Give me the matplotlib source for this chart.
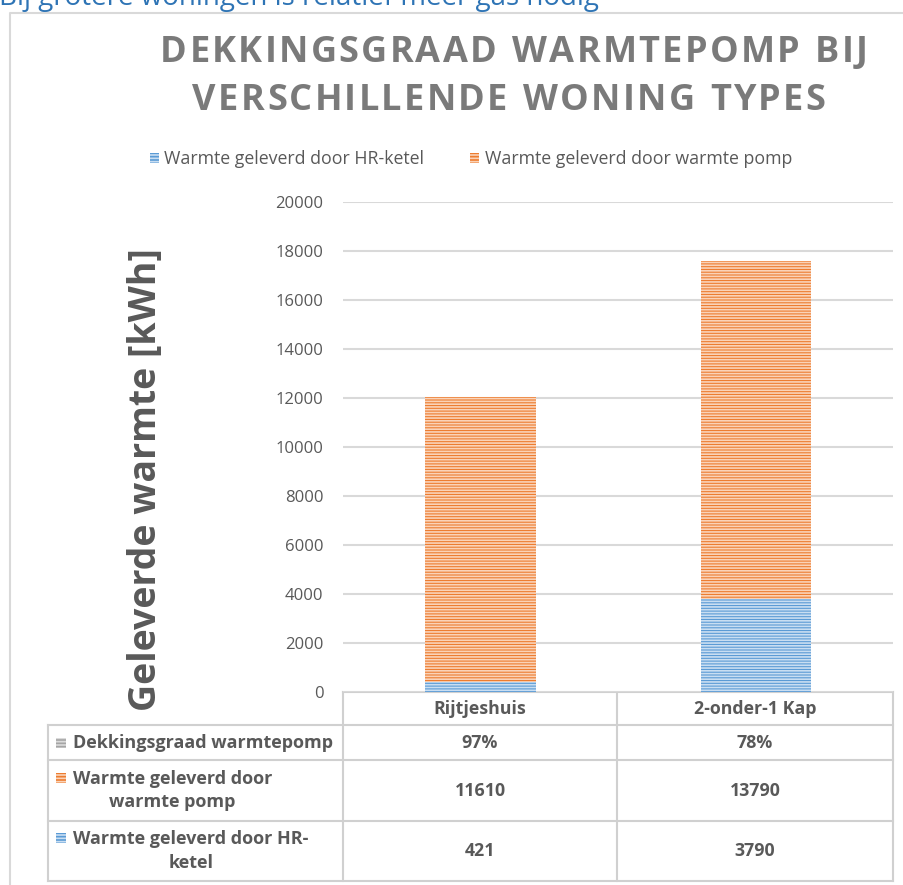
import matplotlib
matplotlib.use("Agg")
import matplotlib.pyplot as plt
from matplotlib.patches import Rectangle, Patch

plt.rcParams['font.family'] = ['Open Sans', 'DejaVu Sans']
plt.rcParams['hatch.linewidth'] = 1.2

# ---- data ----
categories = ["Rijtjeshuis", "2-onder-1 Kap"]
hr_ketel = [421, 3790]
warmtepomp = [11610, 13790]
dekkingsgraad = [0.97, 0.78]
series_names = ["Warmte geleverd door HR-ketel", "Warmte geleverd door warmte pomp"]
table_labels = ["Dekkingsgraad warmtepomp",
                "Warmte geleverd door\nwarmte pomp",
                "Warmte geleverd door HR-\nketel"]
yticks = [0, 2000, 4000, 6000, 8000, 10000, 12000, 14000, 16000, 18000, 20000]

title_lines = ["DEKKINGSGRAAD WARMTEPOMP BIJ", "VERSCHILLENDE WONING TYPES"]
ylabel = "Geleverde warmte [kWh]"
top_caption = "Bij grotere woningen is relatief meer gas nodig"

BLUE, BLUE_L = "#5B9BD5", "#C9DEF2"
ORANGE, ORANGE_L = "#ED7D31", "#FAD3B8"
GRAY, GRAY_L = "#A5A5A5", "#DBDBDB"
TXT = "#595959"
GRID = "#D9D9D9"

W, H = 904, 885
fig = plt.figure(figsize=(W / 100, H / 100), dpi=100)
renderer = fig.canvas.get_renderer()

def fx(x):
    return x / W

def fy(y):
    return 1 - y / H

# outer chart border + cut-off caption above the chart
border = fig.add_axes([0, 0, 1, 1])
border.set_xlim(0, W)
border.set_ylim(H, 0)
border.axis("off")
border.plot([10, 10, W + 5], [H + 5, 13, 13], color=GRID, lw=1.5)
border.text(-1, 5, top_caption, fontsize=20, color="#2E74B5", va="baseline", ha="left")

# main axes
L, R, T, B = 343, 893, 202, 692
ax = fig.add_axes([fx(L), fy(B), fx(R) - fx(L), fy(T) - fy(B)])
x = list(range(len(categories)))
ax.bar(x, hr_ketel, width=0.4, color=BLUE, edgecolor=BLUE_L, linewidth=0, hatch="------", zorder=3)
ax.bar(x, warmtepomp, width=0.4, bottom=hr_ketel, color=ORANGE, edgecolor=ORANGE_L,
       linewidth=0, hatch="------", zorder=3)
ax.set_xlim(-0.5, len(categories) - 0.5)
ax.set_ylim(0, 20000)
ax.set_yticks(yticks)
ax.set_yticklabels([str(v) for v in yticks], fontsize=12, color=TXT)
ax.tick_params(axis="y", length=0, pad=14)
ax.set_xticks([])
for s in ax.spines.values():
    s.set_visible(False)
ax.grid(axis="y", color=GRID, lw=1.5, zorder=0)

# title with letter spacing (drawn per character)
def spaced_text(line, xc, yc, size, spacing):
    widths = []
    for ch in line:
        t = fig.text(0, 0, ch if ch != " " else "n", fontsize=size, fontweight="bold")
        w = t.get_window_extent(renderer).width
        if ch == " ":
            w *= 0.45
        widths.append(w)
        t.remove()
    total = sum(widths) + spacing * (len(line) - 1)
    xp = xc - total / 2
    for ch, w in zip(line, widths):
        if ch != " ":
            fig.text(fx(xp), fy(yc), ch, fontsize=size, fontweight="bold", color="#7A7A7A",
                     ha="left", va="center")
        xp += w + spacing

spaced_text(title_lines[0], 514, 53, 26, 2.3)
spaced_text(title_lines[1], 509, 101, 26, 2.3)

# y label
fig.text(fx(146), fy(480), ylabel, ha="center", va="center", rotation=90, fontsize=27,
         fontweight="bold", color=TXT)

# legend
handles = [Patch(facecolor=BLUE, edgecolor=BLUE_L, hatch="-----", lw=0),
           Patch(facecolor=ORANGE, edgecolor=ORANGE_L, hatch="-----", lw=0)]
fig.legend(handles, series_names, loc="center", bbox_to_anchor=(fx(471), fy(159)), ncol=2,
           frameon=False, fontsize=12.8, labelcolor=TXT, handlelength=0.5, handleheight=0.5,
           handletextpad=0.3, columnspacing=2.6)

# data table
tab = fig.add_axes([0, 0, 1, 1], zorder=-1)
tab.set_xlim(0, W)
tab.set_ylim(H, 0)
tab.axis("off")
col_edges = [48, L, 617, R]
row_edges = [B, 725, 760, 821, 881]
lc = "#D0D0D0"
tab.plot([L, R], [B, B], color=lc, lw=1.5)
for xe in col_edges[1:]:
    tab.plot([xe, xe], [B, row_edges[-1]], color=lc, lw=1.5)
tab.plot([col_edges[0], col_edges[0]], [row_edges[1], row_edges[-1]], color=lc, lw=1.5)
for ye in row_edges[1:]:
    tab.plot([col_edges[0], R], [ye, ye], color=lc, lw=1.5)

col_centers = [(col_edges[i + 1] + col_edges[i + 2]) / 2 for i in range(len(categories))]
for cx, cat in zip(col_centers, categories):
    tab.text(cx, (row_edges[0] + row_edges[1]) / 2, cat, ha="center", va="center",
             fontsize=12.8, fontweight="bold", color=TXT)

rows = [
    ([f"{round(v * 100)}%" for v in dekkingsgraad], GRAY, GRAY_L),
    ([str(v) for v in warmtepomp], ORANGE, ORANGE_L),
    ([str(v) for v in hr_ketel], BLUE, BLUE_L),
]
for i, ((vals, c, cl), lab) in enumerate(zip(rows, table_labels)):
    y0, y1 = row_edges[i + 1], row_edges[i + 2]
    yc = (y0 + y1) / 2
    nlines = lab.count("\n") + 1
    first_line_y = yc - (nlines - 1) * 13
    tab.add_patch(Rectangle((56, first_line_y - 5), 10, 10, facecolor=c, edgecolor=cl,
                            hatch="-----", lw=0))
    tab.text(73, yc, lab, ha="left", va="center", multialignment="center", fontsize=13,
             fontweight="bold", color=TXT, linespacing=1.4)
    for cx, v in zip(col_centers, vals):
        tab.text(cx, yc, v, ha="center", va="center", fontsize=12.8, fontweight="bold", color=TXT)

fig.savefig("out.png", dpi=100)
